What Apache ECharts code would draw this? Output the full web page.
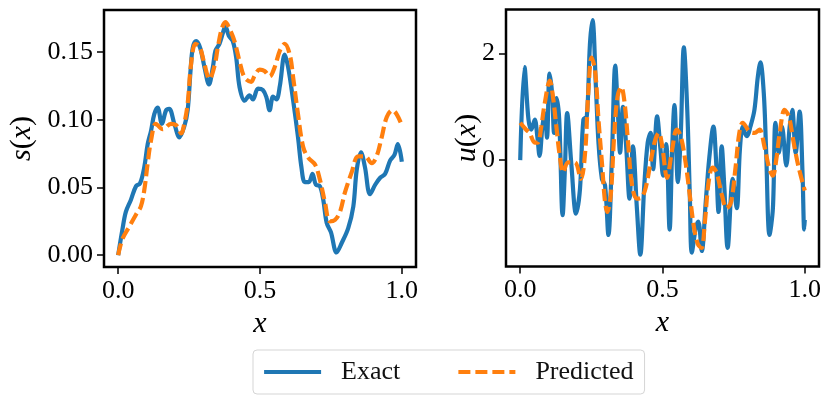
<!DOCTYPE html>
<html>
<head>
<meta charset="utf-8">
<title>s(x) and u(x)</title>
<script src="https://cdn.jsdelivr.net/npm/echarts@6.0.0/dist/echarts.min.js"></script>
<style>
  html, body { margin: 0; padding: 0; background: #fff; }
  #main { width: 831px; height: 407px; }
</style>
</head>
<body>
<div id="main"></div>
<script>
// left panel: s(x)
var sExactX = [0, 0.015, 0.027, 0.045, 0.063, 0.077, 0.092, 0.104, 0.116, 0.127,
  0.139, 0.154, 0.169, 0.180, 0.198, 0.216, 0.233, 0.245, 0.255, 0.263,
  0.275, 0.289, 0.304, 0.320, 0.334, 0.343, 0.357, 0.369, 0.378, 0.390,
  0.404, 0.416, 0.428, 0.446, 0.463, 0.475, 0.493, 0.510, 0.522, 0.534,
  0.546, 0.558, 0.570, 0.587, 0.599, 0.617, 0.634, 0.646, 0.658, 0.672,
  0.685, 0.697, 0.711, 0.723, 0.735, 0.750, 0.770, 0.788, 0.811, 0.829,
  0.841, 0.856, 0.870, 0.888, 0.906, 0.923, 0.941, 0.959, 0.974, 0.986, 1.0];
var sExact = [0, 0.019, 0.032, 0.041, 0.051, 0.053, 0.065, 0.082, 0.092, 0.104,
  0.109, 0.097, 0.107, 0.108, 0.097, 0.087, 0.095, 0.107, 0.136, 0.153,
  0.158, 0.153, 0.139, 0.126, 0.139, 0.151, 0.156, 0.164, 0.169, 0.162,
  0.158, 0.146, 0.124, 0.114, 0.118, 0.115, 0.123, 0.122, 0.117, 0.107,
  0.117, 0.115, 0.125, 0.148, 0.139, 0.114, 0.087, 0.065, 0.054, 0.054,
  0.060, 0.052, 0.051, 0.041, 0.024, 0.017, 0.002, 0.009, 0.020, 0.036,
  0.063, 0.076, 0.065, 0.045, 0.052, 0.057, 0.060, 0.070, 0.074, 0.082, 0.069];

var sPredX = [0, 0.015, 0.039, 0.063, 0.080, 0.092, 0.104, 0.116, 0.133, 0.157,
  0.186, 0.204, 0.222, 0.233, 0.245, 0.257, 0.272, 0.287, 0.302, 0.322,
  0.340, 0.351, 0.365, 0.378, 0.393, 0.410, 0.428, 0.446, 0.469, 0.481,
  0.499, 0.516, 0.534, 0.552, 0.570, 0.587, 0.605, 0.617, 0.634, 0.652,
  0.670, 0.694, 0.711, 0.729, 0.746, 0.764, 0.782, 0.799, 0.823, 0.846,
  0.870, 0.894, 0.911, 0.929, 0.947, 0.967, 0.982, 1.0];
var sPred = [0, 0.012, 0.021, 0.030, 0.036, 0.048, 0.068, 0.085, 0.097, 0.093,
  0.097, 0.096, 0.090, 0.097, 0.112, 0.141, 0.156, 0.154, 0.143, 0.130,
  0.140, 0.153, 0.167, 0.172, 0.167, 0.158, 0.143, 0.131, 0.128, 0.1325,
  0.137, 0.136, 0.132, 0.139, 0.151, 0.156, 0.148, 0.131, 0.104, 0.080,
  0.072, 0.067, 0.056, 0.039, 0.025, 0.026, 0.032, 0.046, 0.061, 0.073,
  0.073, 0.068, 0.073, 0.087, 0.102, 0.107, 0.104, 0.096];

// right panel: u(x)
var uExactX = [0, 0.015, 0.029, 0.039, 0.051, 0.060, 0.068, 0.078, 0.086, 0.094,
  0.103, 0.112, 0.119, 0.128, 0.137, 0.149, 0.157, 0.165, 0.180, 0.196,
  0.210, 0.222, 0.234, 0.245, 0.254, 0.266, 0.275, 0.287, 0.298, 0.310,
  0.322, 0.334, 0.343, 0.351, 0.361, 0.373, 0.384, 0.396, 0.410, 0.422,
  0.436, 0.448, 0.458, 0.467, 0.481, 0.493, 0.502, 0.513, 0.525, 0.534,
  0.542, 0.554, 0.564, 0.575, 0.587, 0.596, 0.603, 0.617, 0.626, 0.638,
  0.652, 0.664, 0.679, 0.688, 0.697, 0.708, 0.717, 0.729, 0.747, 0.761,
  0.772, 0.782, 0.790, 0.797, 0.809, 0.823, 0.835, 0.844, 0.856, 0.864,
  0.876, 0.888, 0.897, 0.909, 0.920, 0.935, 0.947, 0.956, 0.968, 0.982,
  0.992, 0.998, 1.0];
var uExact = [0, 1.74, 0.76, 0.57, 0.76, 0.45, 0.08, 0.63, 0.88, 0.42,
  1.62, 1.25, 0.51, 1.16, 0.76, -1.03, -0.17, 0.88, -0.10, -1.00,
  -0.54, 0.76, 0.82, 2.17, 2.62, 1.37, 0.33, -0.35, -0.47, -1.40,
  0.02, 1.77, 0.94, 0.14, 1.00, 0.20, -0.72, 0.26, -0.90, -1.77,
  -0.47, 0.33, 0.51, -0.17, 0.82, 0.20, -0.29, 0.30, -1.30, 0.20,
  1.03, -0.41, 0.45, 2.11, 0.94, -0.66, -1.73, -1.27, -1.15, -1.70,
  -0.78, 0.02, 0.63, 0.02, -0.97, 0.26, -0.47, -1.64, -0.35, -0.90,
  0.20, 0.63, 0.50, 0.45, 0.63, 0.94, 1.56, 1.83, 1.25, 0.20,
  -1.40, -0.90, 0.70, 0.14, 0.63, -0.10, 0.63, 0.94, 0.14, 0.91,
  -0.23, -1.30, -1.12];

var uPredX = [0, 0.021, 0.033, 0.051, 0.062, 0.074, 0.086, 0.104, 0.115, 0.127,
  0.139, 0.151, 0.168, 0.192, 0.213, 0.228, 0.239, 0.251, 0.263, 0.275,
  0.287, 0.298, 0.306, 0.318, 0.330, 0.342, 0.355, 0.367, 0.379, 0.393,
  0.410, 0.428, 0.443, 0.458, 0.475, 0.487, 0.499, 0.516, 0.534, 0.550,
  0.564, 0.581, 0.596, 0.611, 0.625, 0.637, 0.649, 0.662, 0.676, 0.690,
  0.709, 0.725, 0.741, 0.756, 0.770, 0.782, 0.805, 0.823, 0.841, 0.858,
  0.876, 0.888, 0.900, 0.912, 0.929, 0.944, 0.959, 0.977, 1.0];
var uPred = [0.70, 0.57, 0.51, 0.33, 0.33, 0.63, 1.06, 1.49, 1.19, 0.63,
  0.08, -0.23, -0.04, -0.04, -0.35, 0.14, 1.25, 1.92, 1.68, 0.76,
  -0.04, -0.78, -0.97, -0.66, 0.45, 1.19, 1.37, 1.06, 0.33, -0.47,
  -0.72, -0.69, -0.47, -0.04, 0.39, 0.51, 0.26, -0.33, 0.20, 0.57,
  0.45, -0.04, -0.66, -1.27, -1.58, -1.64, -1.15, -0.41, -0.14, -0.23,
  -0.66, -0.90, -0.78, -0.17, 0.51, 0.70, 0.54, 0.51, 0.57, 0.26,
  -0.17, -0.29, 0.02, 0.51, 0.94, 0.82, 0.39, -0.10, -0.57];

var xTicks = [0, 0.5, 1];
var sTicks = [0, 0.05, 0.1, 0.15];
var uTicks = [0, 2];

function zip(xs, ys) {
  return xs.map(function (x, i) { return [x, ys[i]]; });
}

var FONT = 'Liberation Serif';
var BLUE = '#1f77b4', ORANGE = '#ff7f0e';

function xAxisFor(gi) {
  return {
    type: 'value', gridIndex: gi, min: -0.05, max: 1.05,
    axisLine: { show: false, onZero: false },
    splitLine: { show: false },
    axisTick: { customValues: xTicks, length: 7, lineStyle: { color: '#000', width: 1.5 } },
    axisLabel: {
      customValues: xTicks, margin: 11, color: '#000', fontFamily: FONT, fontSize: 26,
      formatter: function (v) { return v.toFixed(1); }
    },
    name: 'x', nameLocation: 'middle', nameGap: 42, nameMoveOverlap: false,
    nameTextStyle: { color: '#000', fontFamily: FONT, fontSize: 30, fontStyle: 'italic' }
  };
}

function yAxisFor(gi, min, max, ticks, digits, label, gap) {
  return {
    type: 'value', gridIndex: gi, min: min, max: max,
    axisLine: { show: false, onZero: false },
    splitLine: { show: false },
    axisTick: { customValues: ticks, length: 7, lineStyle: { color: '#000', width: 1.5 } },
    axisLabel: {
      customValues: ticks, margin: 11, color: '#000', fontFamily: FONT, fontSize: 26,
      formatter: function (v) { return v.toFixed(digits); }
    },
    name: '{i|' + label + '}(' + '{i|x})', nameLocation: 'middle', nameGap: gap,
    nameMoveOverlap: false,
    nameTextStyle: {
      color: '#000', fontFamily: FONT, fontSize: 30,
      rich: { i: { fontStyle: 'italic', fontFamily: FONT, fontSize: 30, color: '#000' } }
    }
  };
}

function line(name, gi, data, color, dashed) {
  return {
    name: name, type: 'line', xAxisIndex: gi, yAxisIndex: gi,
    data: data, showSymbol: false, symbol: 'none', smooth: 0.35,
    lineStyle: { color: color, width: 4.2, type: dashed ? [12, 5] : 'solid', cap: 'butt' },
    itemStyle: { color: color }
  };
}

var myChart = echarts.init(document.getElementById('main'), null, { renderer: 'canvas' });
var frame = { show: true, borderColor: '#000', borderWidth: 2.5, backgroundColor: 'transparent' };
var option = {
  animation: false,
  backgroundColor: '#fff',
  grid: [
    Object.assign({ left: 104, top: 10, width: 312, height: 257 }, frame),
    Object.assign({ left: 506, top: 9.5, width: 313, height: 257 }, frame)
  ],
  xAxis: [xAxisFor(0), xAxisFor(1)],
  yAxis: [
    yAxisFor(0, -0.0087, 0.181, sTicks, 2, 's', 67),
    yAxisFor(1, -1.99, 2.82, uTicks, 0, 'u', 24)
  ],
  legend: {
    data: ['Exact', 'Predicted'],
    left: 253, top: 350,
    itemWidth: 57, itemHeight: 14, itemGap: 56,
    padding: [9, 11, 9, 9],
    borderColor: '#d5d5d5', borderWidth: 1, borderRadius: 4,
    itemStyle: { opacity: 0 },
    lineStyle: { width: 4.2 },
    textStyle: { color: '#111', fontFamily: FONT, fontSize: 26, padding: [0, 0, 0, 15] }
  },
  series: [
    line('Exact', 0, zip(sExactX, sExact), BLUE, false),
    line('Predicted', 0, zip(sPredX, sPred), ORANGE, true),
    line('Exact', 1, zip(uExactX, uExact), BLUE, false),
    line('Predicted', 1, zip(uPredX, uPred), ORANGE, true)
  ]
};
myChart.setOption(option);
</script>
</body>
</html>
